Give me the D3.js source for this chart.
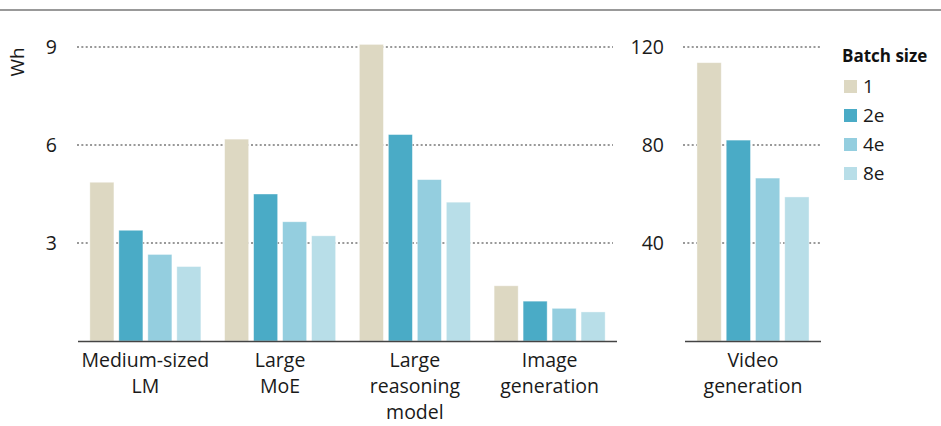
<!DOCTYPE html>
<html>
<head>
<meta charset="utf-8">
<script src="https://cdn.jsdelivr.net/npm/d3@7"></script>
<style>
  body { margin: 0; background: #fff; }
  svg { display: block; font-family: "Open Sans", sans-serif; }
</style>
</head>
<body>
<div id="chart"></div>
<script>
// Energy per request (Wh) by batch size
const series = ["1", "2e", "4e", "8e"];
const seriesColors = ["#ddd8c2", "#4aabc6", "#94cedf", "#b8dee8"];

const leftGroups = ["Medium-sized\nLM", "Large\nMoE", "Large\nreasoning\nmodel", "Image\ngeneration"];
const leftValues = [
  [4.86, 3.39, 2.65, 2.28],
  [6.18, 4.5, 3.65, 3.22],
  [9.08, 6.32, 4.94, 4.25],
  [1.69, 1.22, 1.0, 0.89],
];
const leftTicks = [3, 6, 9];

const rightGroups = ["Video\ngeneration"];
const rightValues = [
  [113.6, 82.0, 66.5, 58.8],
];
const rightTicks = [40, 80, 120];

const W = 941, H = 426;
const svg = d3.select("#chart").append("svg").attr("width", W).attr("height", H);

// top rule
svg.append("line")
  .attr("x1", 0).attr("x2", W).attr("y1", 10).attr("y2", 10)
  .attr("stroke", "#999").attr("stroke-width", 2);

const baseY = 341, topY = 47;

function panel(groups, values, ticks, maxV, x0, x1, gx0, gx1, tickX) {
  const y = d3.scaleLinear().domain([0, maxV]).range([baseY, topY]);
  const xg = d3.scaleBand().domain(groups).range([x0, x1]).paddingInner(0.176).paddingOuter(0.088);
  const xs = d3.scaleBand().domain(series).range([0, xg.bandwidth()]).paddingInner(0.17);

  // dotted gridlines
  svg.append("g").selectAll("line")
    .data(ticks)
    .join("line")
    .attr("x1", gx0).attr("x2", gx1)
    .attr("y1", (d) => y(d)).attr("y2", (d) => y(d))
    .attr("stroke", "#999").attr("stroke-width", 2)
    .attr("stroke-dasharray", "2 2.35");

  // tick labels via axis
  const ax = svg.append("g")
    .attr("transform", `translate(${tickX},0)`)
    .call(d3.axisLeft(y).tickValues(ticks).tickSize(0).tickPadding(0));
  ax.select(".domain").remove();
  ax.selectAll("text").style("font-size", "19.5px").attr("fill", "#1a1a1a")
    .attr("font-family", "Open Sans, sans-serif");

  const g = svg.append("g").selectAll("g")
    .data(groups)
    .join("g")
    .attr("transform", (d) => `translate(${xg(d)},0)`);

  g.selectAll("rect")
    .data((d, i) => values[i].map((v, j) => ({ s: series[j], v, c: seriesColors[j] })))
    .join("rect")
    .attr("x", (d) => xs(d.s))
    .attr("width", xs.bandwidth())
    .attr("y", (d) => y(d.v))
    .attr("height", (d) => baseY - y(d.v))
    .attr("fill", (d) => d.c)
    .attr("stroke", "#fff").attr("stroke-opacity", 0.5).attr("stroke-width", 0.8);

  // baseline
  svg.append("line")
    .attr("x1", x0).attr("x2", x1).attr("y1", baseY + 0.5).attr("y2", baseY + 0.5)
    .attr("stroke", "#444").attr("stroke-width", 1.3);

  // category labels
  const lbl = svg.append("g").selectAll("text")
    .data(groups)
    .join("text")
    .attr("x", (d) => xg(d) + xg.bandwidth() / 2)
    .attr("y", 367)
    .attr("text-anchor", "middle")
    .style("font-size", "19.5px")
    .attr("fill", "#1a1a1a");
  lbl.selectAll("tspan")
    .data((d) => d.split("\n"))
    .join("tspan")
    .attr("x", function () { return this.parentNode.getAttribute("x"); })
    .attr("dy", (d, i) => (i === 0 ? 0 : 26))
    .text((d) => d);
}

panel(leftGroups, leftValues, leftTicks, 9, 78, 617, 77, 613, 57);
panel(rightGroups, rightValues, rightTicks, 120, 685, 821, 683, 820, 664);

// y label
svg.append("text")
  .attr("transform", "translate(24,62) rotate(-90)")
  .attr("text-anchor", "middle")
  .style("font-size", "19px")
  .attr("fill", "#1a1a1a")
  .text("Wh");

// legend
const legend = svg.append("g").attr("transform", "translate(842,0)");
legend.append("text")
  .attr("x", 0).attr("y", 62)
  .style("font-size", "17px").style("font-weight", "700")
  .attr("fill", "#111")
  .text("Batch size");
const li = legend.selectAll("g.item")
  .data(series)
  .join("g")
  .attr("class", "item")
  .attr("transform", (d, i) => `translate(2,${80 + i * 29})`);
li.append("rect").attr("width", 13).attr("height", 13)
  .attr("fill", (d, i) => seriesColors[i]);
li.append("text").attr("x", 19).attr("y", 13)
  .style("font-size", "19px").attr("fill", "#1a1a1a")
  .text((d) => d);
</script>
</body>
</html>
